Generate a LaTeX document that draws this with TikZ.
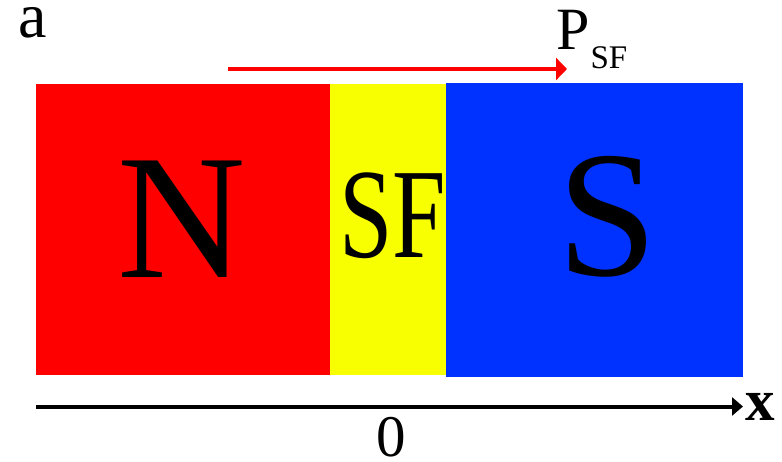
\documentclass[tikz,border=0pt]{standalone}
\usepackage{fontspec}
\setmainfont{Liberation Serif}
\usetikzlibrary{arrows.meta}
\definecolor{nred}{RGB}{255,0,0}
\definecolor{sfyellow}{RGB}{248,255,0}
\definecolor{sblue}{RGB}{0,50,255}
\tikzset{
  lbl/.style={inner sep=0pt, outer sep=0pt, text=black},
  region/.style={draw=none},
  redarrow/.style={draw=nred, line width=4.5pt, -{Triangle[length=11pt,width=22pt]}},
  axisarrow/.style={draw=black, line width=4pt, -{Triangle[length=11pt,width=18pt]}}
}
\begin{document}
\begin{tikzpicture}[x=1pt,y=-1pt]
\useasboundingbox (0,0) rectangle (782,462);
\fill[white] (0,0) rectangle (782,462);
% regions
\fill[nred,region] (36,84) rectangle (330.5,375);
\fill[sfyellow,region] (330,84) rectangle (446.5,375);
\fill[sblue,region] (446,83) rectangle (742.5,377);
% labels in regions
\node[lbl, anchor=base] (N) at (181.5,278) {\fontsize{178}{178}\selectfont N};
\node[lbl, anchor=base] (SF) at (392.5,258) {\scalebox{0.75}[1]{\fontsize{128}{128}\selectfont SF}};
\node[lbl, anchor=base] (S) at (608,276) {\fontsize{180}{180}\selectfont S};
% panel label
\node[lbl, anchor=base west] (a) at (18,38) {\fontsize{64}{64}\selectfont a};
% polarization arrow
\coordinate (pstart) at (228,69);
\coordinate (pend) at (567,69);
\draw[redarrow] (pstart) -- (pend);
\node[lbl, anchor=base west] (P) at (556,50) {\fontsize{60}{60}\selectfont P};
\node[lbl, anchor=base west] (Psub) at (590.5,69) {\fontsize{33}{33}\selectfont SF};
% x axis
\coordinate (xstart) at (36,406.5);
\coordinate (xend) at (743,406.5);
\draw[axisarrow] (xstart) -- (xend);
\node[lbl, anchor=base west] (xlab) at (745,420) {\fontsize{59}{59}\selectfont\bfseries x};
\node[lbl, anchor=base] (zero) at (391,456) {\fontsize{59}{59}\selectfont 0};
\end{tikzpicture}
\end{document}
